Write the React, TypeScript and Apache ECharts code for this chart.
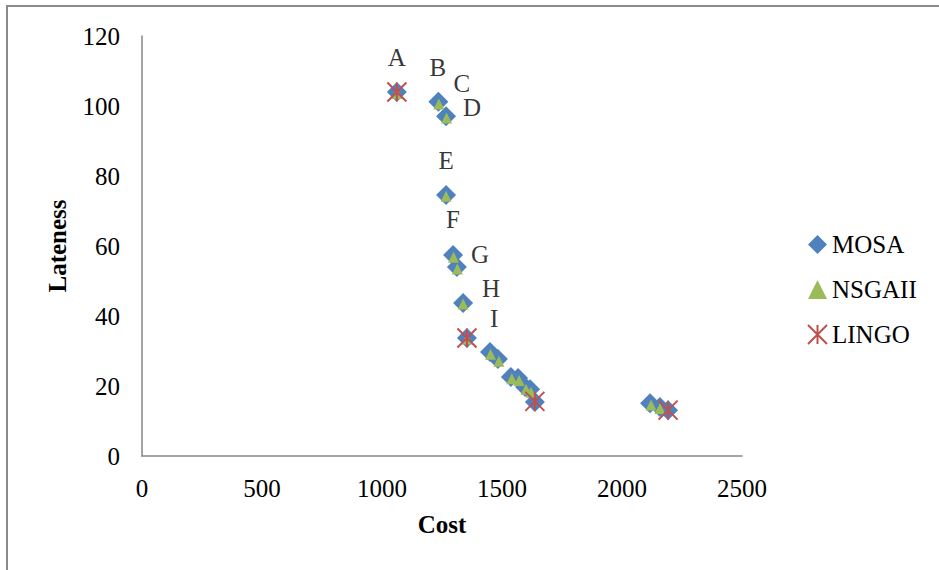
import React, { useEffect, useRef } from "react";
import * as echarts from "echarts";

const xTicks = [0, 500, 1000, 1500, 2000, 2500];
const yTicks = [0, 20, 40, 60, 80, 100, 120];

const mosa: [number, number][] = [
  [1062, 104], [1235, 101.2], [1267, 97.1], [1267, 74.6], [1296, 57.4], [1312, 54],
  [1338, 43.7], [1354, 33.7], [1450, 29.7], [1483, 27.7], [1537, 22.6], [1567, 22.3],
  [1596, 19.7], [1617, 19.1], [1637, 15.4], [2117, 15.1], [2158, 14], [2192, 13.1],
];
const nsgaii: [number, number][] = [
  [1062, 103.6], [1237, 100.6], [1269, 96.6], [1267, 74.2], [1298, 56.8], [1314, 53.4],
  [1338, 43.4], [1354, 33.4], [1452, 29.1], [1487, 27.1], [1541, 22.1], [1571, 21.6],
  [1600, 19.1], [1621, 18.2], [2121, 14.6], [2158, 13.6],
];
const lingo: [number, number][] = [
  [1062, 104], [1354, 33.7], [1637, 15.6], [2192, 13.1],
];
const pointLabels = ["A", "B", "C", "D", "E", "F", "G", "H", "I"];
const labelPositions: [number, number][] = [
  [1062, 114], [1233, 110.9], [1333, 106.3], [1375, 99.7], [1267, 84.3],
  [1296, 67.7], [1408, 57.7], [1454, 48], [1467, 39.4],
];

const FONT = "Liberation Serif";
const TXT = { fontFamily: FONT, fontSize: 25, color: "#000" };

export default function App() {
  const ref = useRef<HTMLDivElement>(null);
  useEffect(() => {
    if (!ref.current) return;
    const chart = echarts.init(ref.current, undefined, { renderer: "svg" });
    chart.setOption({
      animation: false,
      backgroundColor: "#fff",
      grid: { left: 142, top: 36, width: 600, height: 420, containLabel: false },
      graphic: [
        {
          type: "rect",
          shape: { x: 7, y: 6, width: 1000, height: 1000 },
          style: { fill: "none", stroke: "#8a8a8a", lineWidth: 2 },
          silent: true,
        },
      ],
      legend: {
        orient: "vertical",
        left: 802,
        top: 227,
        itemGap: 20,
        itemWidth: 19,
        itemHeight: 19,
        textStyle: { ...TXT },
        data: ["MOSA", "NSGAII", "LINGO"],
      },
      xAxis: {
        type: "value",
        min: xTicks[0],
        max: xTicks[xTicks.length - 1],
        interval: 500,
        name: "Cost",
        nameLocation: "middle",
        nameGap: 56,
        nameTextStyle: { ...TXT, fontWeight: "bold" },
        axisLine: { show: true, lineStyle: { color: "#868686", width: 1.5 } },
        axisTick: { show: false },
        splitLine: { show: false },
        axisLabel: { ...TXT, margin: 20, formatter: (v: number) => String(v) },
      },
      yAxis: {
        type: "value",
        min: yTicks[0],
        max: yTicks[yTicks.length - 1],
        interval: 20,
        name: "Lateness",
        nameLocation: "middle",
        nameGap: 72,
        nameTextStyle: { ...TXT, fontWeight: "bold" },
        axisLine: { show: true, lineStyle: { color: "#868686", width: 1.5 } },
        axisTick: { show: false },
        splitLine: { show: false },
        axisLabel: { ...TXT, margin: 22, formatter: (v: number) => String(v) },
      },
      series: [
        {
          name: "MOSA",
          type: "scatter",
          symbol: "diamond",
          symbolSize: 20,
          itemStyle: { color: "#4F81BD", opacity: 1 },
          data: mosa,
          z: 2,
        },
        {
          name: "NSGAII",
          type: "scatter",
          symbol: "triangle",
          symbolSize: 11,
          itemStyle: { color: "#9BBB59", opacity: 1 },
          data: nsgaii,
          z: 3,
        },
        {
          name: "LINGO",
          type: "scatter",
          symbol: "path://M0,0L10,10M10,0L0,10M5,0L5,10",
          symbolSize: 19,
          itemStyle: { color: "rgba(0,0,0,0)", borderColor: "#C0504D", borderWidth: 2, opacity: 1 },
          data: lingo,
          z: 4,
        },
        {
          name: "labels",
          type: "scatter",
          symbolSize: 0,
          silent: true,
          data: labelPositions.map((p, i) => ({ value: p, name: pointLabels[i] })),
          label: {
            show: true,
            position: "inside",
            formatter: (p: any) => p.name,
            ...TXT,
          },
        },
      ],
    });
    return () => chart.dispose();
  }, []);
  return (
    <div
      ref={ref}
      style={{ position: "absolute", left: 0, top: 0, width: 939, height: 570 }}
    />
  );
}
